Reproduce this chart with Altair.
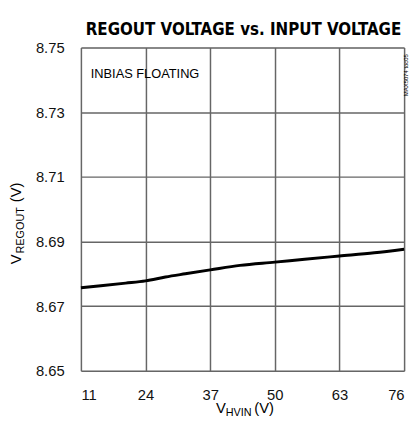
import altair as alt
import pandas as pd

vin = [11, 15, 20, 24, 28, 32, 37, 43, 50, 56, 63, 70, 76]
vregout = [8.6757, 8.6763, 8.6771, 8.6778, 8.6790, 8.6800, 8.6812, 8.6826, 8.6836, 8.6845, 8.6855, 8.6865, 8.6876]
x_ticks = [11, 24, 37, 50, 63, 76]
y_ticks = [8.65, 8.67, 8.69, 8.71, 8.73, 8.75]

FONT = "Liberation Sans, Arial, sans-serif"
TFONT = "DejaVu Sans Condensed, DejaVu Sans, sans-serif"
W, H = 328, 328

df = pd.DataFrame({"vin": vin, "vregout": vregout})
one = pd.DataFrame({"a": [0]})

x = alt.X("vin:Q", scale=alt.Scale(domain=[11, 76], nice=False),
          axis=alt.Axis(values=x_ticks, title=None, grid=True, gridColor="#666666",
                        gridWidth=1.5, ticks=False, domain=False, labelFont=FONT,
                        labelFontSize=15, labelColor="#111", labelPadding=17))
y = alt.Y("vregout:Q", scale=alt.Scale(domain=[8.65, 8.75], nice=False, zero=False),
          axis=alt.Axis(values=y_ticks, format=".2f", title=None, grid=True, gridColor="#666666",
                        gridWidth=1.5, ticks=False, domain=False, labelFont=FONT,
                        labelFontSize=15, labelColor="#111", labelPadding=17))

line = alt.Chart(df).mark_line(color="black", strokeWidth=3, interpolate="monotone").encode(x=x, y=y)

def txt(text, px, py, size=15, angle=0, align="left", baseline="alphabetic", weight="normal", font=FONT):
    return alt.Chart(one).mark_text(text=text, fontSize=size, angle=angle, align=align,
                                    baseline=baseline, fontWeight=weight, font=font,
                                    color="black").encode(x=alt.value(px), y=alt.value(py))

title = txt("REGOUT VOLTAGE vs. INPUT VOLTAGE", W / 2 + 1, -13, size=17, align="center",
            weight="bold", font=TFONT)
note = txt("INBIAS FLOATING", 10, 31, size=13)
code = txt("MAX5074 toc05", W + 2, 28, size=6, angle=270, align="center", baseline="middle")

# x-axis title with subscript
xt1 = txt("V", 147, 371, size=15, align="right")
xt2 = txt("HVIN", 147, 374, size=11, align="left")
xt3 = txt("(V)", 176, 371, size=15, align="left")

# y-axis title with subscript (rotated)
yt1 = txt("V", -61, 220, size=15, angle=270, align="left")
yt2 = txt("REGOUT", -58, 209, size=11, angle=270, align="left")
yt3 = txt("(V)", -61, 157, size=15, angle=270, align="left")

chart = alt.layer(line, title, note, code, xt1, xt2, xt3, yt1, yt2, yt3).properties(
    width=W, height=H,
    autosize=alt.AutoSizeParams(type="none"),
    padding={"left": 74, "top": 37, "right": 7, "bottom": 56},
).configure_view(stroke="black", strokeWidth=3).configure(background="white")

chart.save("out.html", embed_options={"renderer": "svg", "actions": False})
